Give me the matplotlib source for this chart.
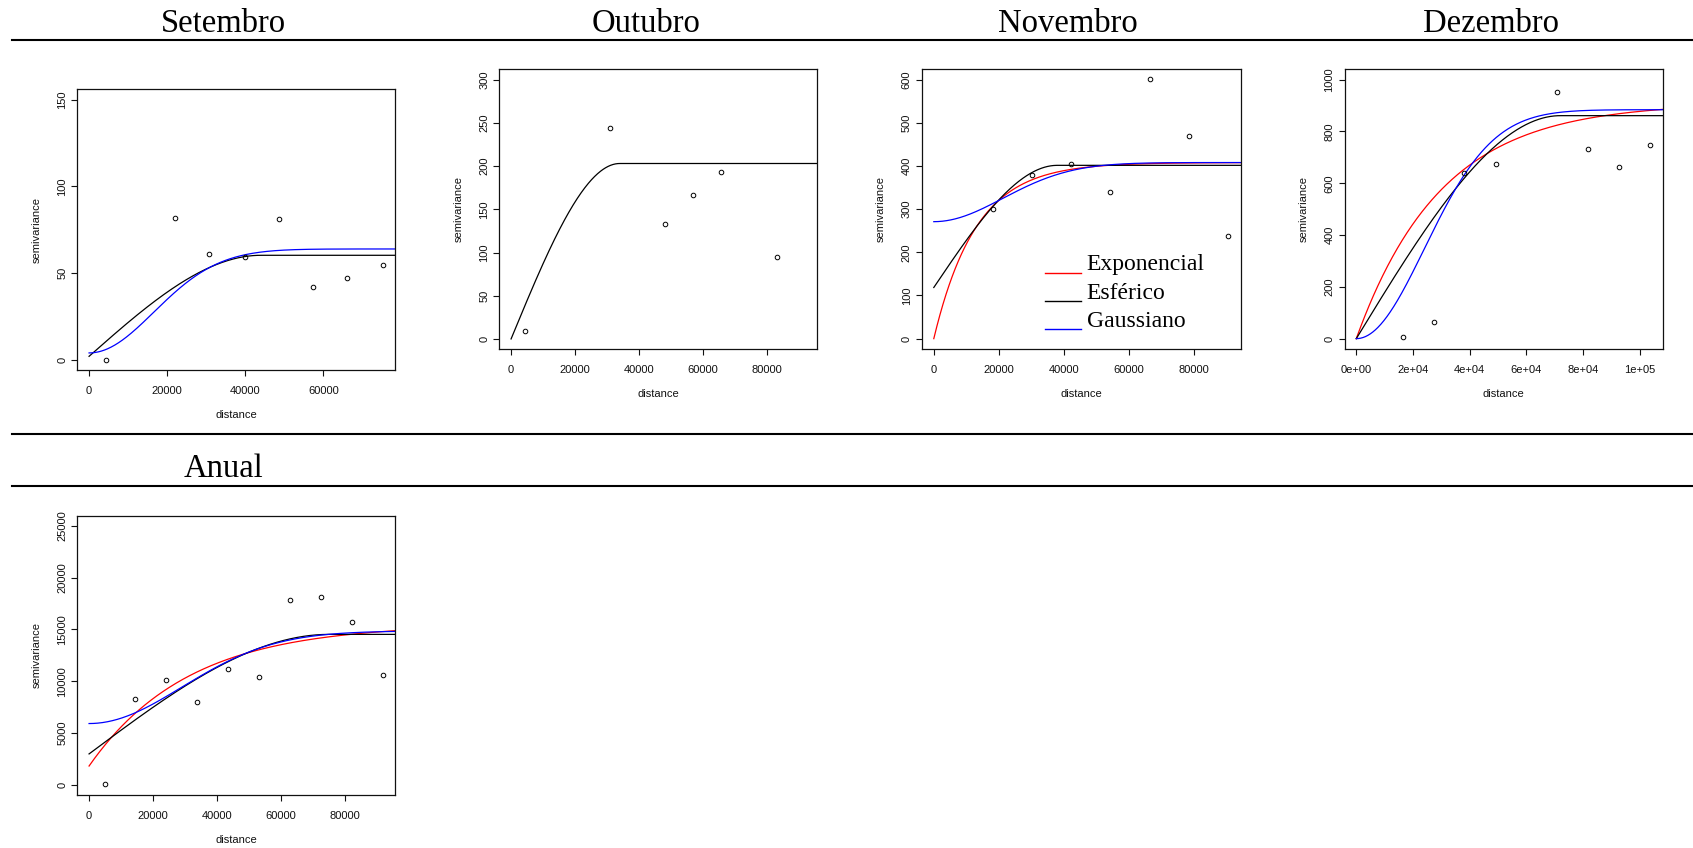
import numpy as np
import matplotlib
matplotlib.use("Agg")
import matplotlib.pyplot as plt
from matplotlib.lines import Line2D

plt.rcParams['font.family'] = ['Liberation Sans', 'DejaVu Sans']
SERIF = ['Liberation Serif', 'DejaVu Serif']

# ---- empirical semivariograms (lag distance, semivariance) ----
set_dist = [4400, 22000, 30800, 40000, 48700, 57400, 66200, 75200]
set_gamma = [0, 82, 61, 59, 81, 42, 47, 54.5]

out_dist = [4400, 30800, 48200, 57000, 65800, 83200]
out_gamma = [9, 244, 133, 166, 193, 95]

nov_dist = [18200, 30200, 42200, 54300, 66400, 78500, 90500]
nov_gamma = [301, 380, 405, 339, 601, 469, 238]

dez_dist = [16400, 27300, 38100, 49200, 70900, 81900, 92800, 103800]
dez_gamma = [5, 66, 639, 674, 951, 731, 661, 746]

anu_dist = [4900, 14500, 24100, 33800, 43500, 53200, 62800, 72400, 82100, 91800]
anu_gamma = [60, 8240, 10100, 7980, 11130, 10360, 17830, 18110, 15730, 10550]

# ---- fitted models: (model, nugget, partial sill, range) ----
set_models = [("Esférico", 1.9, 58.3, 44000), ("Gaussiano", 3.85, 60.0, 23500)]
out_models = [("Esférico", 0.0, 203.0, 34000)]
nov_models = [("Exponencial", 0.0, 408.0, 13000), ("Esférico", 118.5, 283.0, 38000),
              ("Gaussiano", 271.0, 137.0, 30000)]
dez_models = [("Exponencial", 0.0, 910.0, 30000), ("Esférico", 0.0, 861.0, 72000),
              ("Gaussiano", 0.0, 884.0, 34000)]
anu_models = [("Exponencial", 1800.0, 13700.0, 31000), ("Esférico", 2968.0, 11548.0, 75000),
              ("Gaussiano", 5903.0, 8936.0, 41000)]

MODEL_COLORS = {"Exponencial": "#ff0000", "Esférico": "#000000", "Gaussiano": "#0000ff"}

# ---- axis ticks ----
set_xticks = [0, 20000, 40000, 60000]
set_yticks = [0, 50, 100, 150]
out_xticks = [0, 20000, 40000, 60000, 80000]
out_yticks = [0, 50, 100, 150, 200, 250, 300]
nov_xticks = [0, 20000, 40000, 60000, 80000]
nov_yticks = [0, 100, 200, 300, 400, 500, 600]
dez_xticks = [0, 20000, 40000, 60000, 80000, 100000]
dez_xticklabels = ["0e+00", "2e+04", "4e+04", "6e+04", "8e+04", "1e+05"]
dez_yticks = [0, 200, 400, 600, 800, 1000]
anu_xticks = [0, 20000, 40000, 60000, 80000]
anu_yticks = [0, 5000, 10000, 15000, 20000, 25000]

W, H, DPI = 1693, 848, 100
fig = plt.figure(figsize=(W / DPI, H / DPI), dpi=DPI)


def box_axes(left, top, right, bottom):
    return fig.add_axes([left / W, 1 - bottom / H, (right - left) / W, (bottom - top) / H])


def model_curve(kind, h, nugget, psill, rng):
    if kind == "Exponencial":
        return nugget + psill * (1 - np.exp(-h / rng))
    if kind == "Gaussiano":
        return nugget + psill * (1 - np.exp(-(h / rng) ** 2))
    r = np.minimum(h / rng, 1.0)
    return nugget + psill * (1.5 * r - 0.5 * r ** 3)


def padded(lo, hi):
    d = 0.04 * (hi - lo)
    return lo - d, hi + d


def draw_panel(box, dist, gamma, models, xmax, ymax, xticks, yticks,
               xticklabels=None, legend=False):
    ax = box_axes(*box)
    xlim = padded(0, xmax)
    ylim = padded(0, ymax)
    h = np.linspace(0, xlim[1], 500)
    for name, n, s, a in models:
        ax.plot(h, model_curve(name, h, n, s, a), color=MODEL_COLORS[name],
                lw=0.9, label=name)
    ax.plot(dist, gamma, 'o', mfc='none', mec='black', ms=3.3, mew=0.7)
    ax.set_xlim(*xlim)
    ax.set_ylim(*ylim)
    ax.set_xticks(xticks, labels=xticklabels if xticklabels else [str(v) for v in xticks])
    ax.set_yticks(yticks, labels=[str(v) for v in yticks])
    for lbl in ax.get_yticklabels():
        lbl.set_rotation(90)
        lbl.set_va('center')
    ax.tick_params(direction='out', length=4.3, width=0.8, labelsize=8, colors='#111111')
    ax.tick_params(axis='x', pad=7.0)
    ax.tick_params(axis='y', pad=3.0)
    for sp in ax.spines.values():
        sp.set_linewidth(0.9)
        sp.set_color('#111111')
    ax.annotate("distance", xy=(0.5, 0), xycoords='axes fraction', xytext=(0, -45),
                textcoords='offset pixels', ha='center', va='center', fontsize=8,
                color='#111111')
    ax.annotate("semivariance", xy=(0, 0.5), xycoords='axes fraction', xytext=(-41, 0),
                textcoords='offset pixels', ha='center', va='center', rotation=90,
                fontsize=8, color='#111111')
    if legend:
        leg = ax.legend(loc='upper left', bbox_to_anchor=(0.386, 0.340), frameon=False,
                        prop={'family': SERIF, 'size': 17}, handlelength=1.525,
                        handletextpad=0.25, labelspacing=0.28, borderpad=0,
                        borderaxespad=0)
        for ln in leg.get_lines():
            ln.set_linewidth(1.0)
            ln.set_ydata(np.asarray(ln.get_ydata()) - 7.6)
    return ax


draw_panel((77.3, 89.3, 395, 370), set_dist, set_gamma, set_models, 75360, 150,
           set_xticks, set_yticks)
draw_panel((499.3, 69.3, 817.3, 349.3), out_dist, out_gamma, out_models, 92130, 300,
           out_xticks, out_yticks)
draw_panel((922, 69.3, 1240.5, 349), nov_dist, nov_gamma, nov_models, 90740, 600,
           nov_xticks, nov_yticks, legend=True)
draw_panel((1344.5, 69.3, 1662.7, 349), dez_dist, dez_gamma, dez_models, 103960, 1000,
           dez_xticks, dez_yticks, xticklabels=dez_xticklabels)
draw_panel((77.3, 515.5, 395, 795), anu_dist, anu_gamma, anu_models, 91900, 25000,
           anu_xticks, anu_yticks)

# ---- section headings and rules ----
for x, base, name in [(223.5, 31.7, "Setembro"), (645.8, 31.7, "Outubro"),
                      (1068.3, 31.7, "Novembro"), (1491.2, 31.7, "Dezembro"),
                      (223.7, 477.3, "Anual")]:
    fig.text(x / W, 1 - base / H, name, ha='center', va='baseline',
             family=SERIF, fontsize=23.5, color='black')

for y in (40, 434, 486):
    fig.add_artist(Line2D([12 / W, 1.0], [1 - y / H, 1 - y / H],
                          transform=fig.transFigure, color='black', lw=1.5))

fig.savefig("out.png", dpi=DPI, facecolor='white')
